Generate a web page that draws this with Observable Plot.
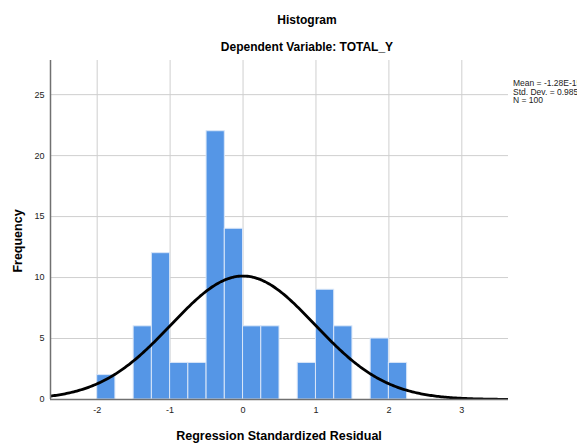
<!DOCTYPE html>
<html><head><meta charset="utf-8">
<script src="https://cdn.jsdelivr.net/npm/d3@7"></script>
<script src="https://cdn.jsdelivr.net/npm/@observablehq/plot@0.6"></script>
<style>
body{margin:0;background:#fff;}
#wrap{position:relative;width:577px;height:443px;overflow:hidden;font-family:"Liberation Sans",Arial,sans-serif;}
.t{position:absolute;font-weight:bold;color:#000;white-space:nowrap;}
#stats{position:absolute;left:513px;top:79px;font-size:8.5px;line-height:8.6px;color:#222;white-space:nowrap;}
</style></head><body><div id="wrap"></div>
<script>
const binLower = [-2, -1.5, -1.25, -1, -0.75, -0.5, -0.25, 0, 0.25, 0.75, 1, 1.25, 1.75, 2];
const counts = [2, 6, 12, 3, 3, 22, 14, 6, 6, 3, 9, 6, 5, 3];
const binWidth = 0.25;
const xTicks = [-2, -1, 0, 1, 2, 3];
const yTicks = [0, 5, 10, 15, 20, 25];
const statLines = ["Mean = -1.28E-15", "Std. Dev. = 0.985", "N = 100"];
const statMean = -1.28e-15, statSd = 0.985, statN = 100;
const title = "Histogram";
const subtitle = "Dependent Variable: TOTAL_Y";
const xLabel = "Regression Standardized Residual";
const yLabel = "Frequency";

const xDomain = [-2.64, 3.64];
const bins = binLower.map((x, i) => ({x1: x, x2: x + binWidth, count: counts[i]}));
// fitted normal curve defined by the stated Mean / Std. Dev. / N
const curve = d3.range(xDomain[0], xDomain[1] + 0.001, 0.02).map(x => ({
  x, y: statN * binWidth * Math.exp(-0.5 * ((x - statMean) / statSd) ** 2) / (statSd * Math.sqrt(2 * Math.PI))
}));

const plot = Plot.plot({
  width: 577, height: 443,
  marginTop: 60, marginBottom: 44, marginLeft: 50, marginRight: 69,
  x: {domain: xDomain, label: null},
  y: {domain: [0, 27.8], label: null},
  style: {fontFamily: "Liberation Sans, Arial, sans-serif", fontSize: "9px", color: "#222", background: "white"},
  marks: [
    Plot.gridX(xTicks, {stroke: "#cfcfcf", strokeOpacity: 1}),
    Plot.gridY(yTicks.slice(1), {stroke: "#cfcfcf", strokeOpacity: 1}),
    Plot.rectY(bins, {x1: "x1", x2: "x2", y: "count", fill: "#5596e6", stroke: "#d9e6f8", strokeWidth: 1}),
    Plot.line(curve, {x: "x", y: "y", stroke: "black", strokeWidth: 2.8, clip: true}),
    Plot.ruleY([0], {stroke: "#707070", strokeWidth: 1.5}),
    Plot.ruleX([xDomain[0]], {stroke: "#707070", strokeWidth: 1.5}),
    Plot.axisX(xTicks, {tickSize: 0, tickPadding: 7, label: null, fill: "#222", tickFormat: d => String(d)}),
    Plot.axisY(yTicks, {tickSize: 0, tickPadding: 6, label: null, fill: "#222", tickFormat: d => String(d)})
  ]
});
const wrap = document.getElementById("wrap");
wrap.appendChild(plot);

function addText(txt, css) {
  const d = document.createElement("div");
  d.className = "t";
  d.textContent = txt;
  Object.assign(d.style, css);
  wrap.appendChild(d);
  return d;
}
addText(title, {left: "307px", top: "13px", fontSize: "12px", transform: "translateX(-50%)"});
addText(subtitle, {left: "307px", top: "40px", fontSize: "12px", transform: "translateX(-50%)"});
addText(xLabel, {left: "279px", top: "429px", fontSize: "12.5px", transform: "translateX(-50%)"});
addText(yLabel, {left: "18px", top: "241px", fontSize: "12.5px", transform: "translate(-50%,-50%) rotate(-90deg)"});
const s = document.createElement("div");
s.id = "stats";
s.innerHTML = statLines.map(l => `<div>${l}</div>`).join("");
wrap.appendChild(s);
</script>
</body></html>
